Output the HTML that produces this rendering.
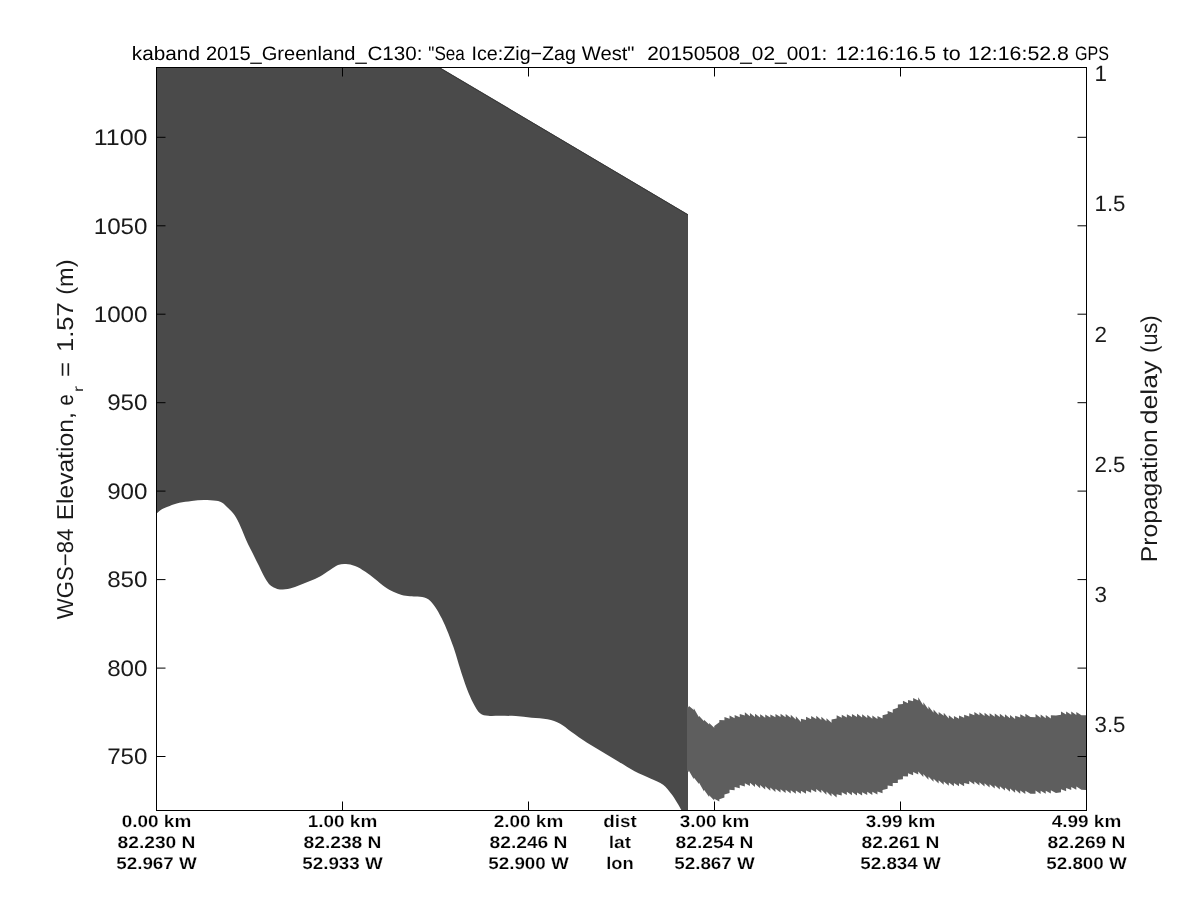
<!DOCTYPE html>
<html><head><meta charset="utf-8"><style>
html,body{margin:0;padding:0;background:#fff;width:1200px;height:900px;overflow:hidden}
svg{display:block;will-change:transform}
text{text-rendering:geometricPrecision}
text{font-family:"Liberation Sans", sans-serif}
</style></head><body>
<svg width="1200" height="900" viewBox="0 0 1200 900">
<path d="M156,67 L439.3,67 L688,214.3 L688,810.5 L681.5,810.5 C681.5,810.4 682.0,811.3 681.3,810.0 C680.6,808.7 679.0,805.7 677.3,802.9 C675.6,800.1 673.4,796.4 671.0,793.4 C668.6,790.4 666.5,787.2 663.1,784.7 C659.7,782.2 655.1,780.6 650.4,778.4 C645.6,776.1 639.9,774.0 634.6,771.2 C629.3,768.4 624.0,764.9 618.7,761.7 C613.4,758.5 608.2,755.4 602.9,752.2 C597.6,749.0 592.4,746.1 587.1,742.7 C581.8,739.3 575.7,734.9 571.2,731.7 C566.7,728.6 564.2,725.9 560.2,723.8 C556.2,721.7 552.2,720.3 547.5,719.3 C542.8,718.3 537.0,718.2 531.7,717.7 C526.4,717.2 521.1,716.4 515.8,716.1 C510.5,715.8 504.6,715.8 500.0,715.8 C495.4,715.8 491.6,716.2 488.3,715.8 C485.0,715.4 482.5,715.4 480.0,713.3 C477.5,711.2 475.5,707.5 473.3,703.3 C471.1,699.1 468.9,694.1 466.7,688.3 C464.5,682.5 461.9,674.4 460.0,668.3 C458.1,662.2 456.9,657.5 455.0,651.7 C453.1,645.9 450.5,638.9 448.3,633.3 C446.1,627.7 443.9,622.7 441.7,618.3 C439.5,613.9 437.2,609.9 435.0,606.7 C432.8,603.5 430.8,600.9 428.3,599.2 C425.8,597.5 423.1,597.2 420.0,596.7 C416.9,596.2 413.1,596.6 410.0,596.3 C406.9,596.0 404.5,595.8 401.7,595.0 C398.9,594.2 396.1,593.0 393.3,591.7 C390.5,590.4 388.1,589.1 385.0,587.0 C381.9,584.9 378.3,581.6 375.0,579.0 C371.7,576.4 368.3,573.7 365.0,571.5 C361.7,569.3 358.2,567.2 355.0,566.0 C351.8,564.8 348.8,564.2 346.0,564.0 C343.2,563.8 340.7,564.0 338.0,565.0 C335.3,566.0 333.0,568.1 330.0,570.0 C327.0,571.9 323.3,574.7 320.0,576.5 C316.7,578.3 313.3,579.6 310.0,581.0 C306.7,582.4 303.3,583.8 300.0,585.0 C296.7,586.2 293.3,587.8 290.0,588.5 C286.7,589.2 282.5,589.6 280.0,589.5 C277.5,589.4 276.7,588.8 275.0,588.0 C273.3,587.2 271.7,586.7 270.0,585.0 C268.3,583.3 266.9,581.2 265.0,578.0 C263.1,574.8 260.9,569.9 258.9,565.8 C256.9,561.7 254.8,557.7 252.8,553.6 C250.8,549.5 248.7,545.8 246.7,541.3 C244.7,536.8 242.6,531.1 240.6,526.7 C238.6,522.3 236.6,518.2 234.5,515.1 C232.4,512.0 230.4,510.4 228.3,508.3 C226.2,506.2 224.2,504.1 222.2,502.8 C220.2,501.6 219.1,501.3 216.1,500.8 C213.1,500.3 208.0,500.0 203.9,500.0 C199.8,500.0 195.8,500.5 191.7,501.0 C187.6,501.5 183.1,502.0 179.4,502.8 C175.7,503.6 172.5,504.9 169.7,505.9 C166.8,506.9 164.5,507.7 162.3,508.9 C160.2,510.1 157.8,512.5 156.8,513.2 C155.8,513.9 156.6,513.3 156.5,513.3 L156,513.3 Z" fill="#4a4a4a"/>
<path d="M687.00,706.15 L688.73,707.37 L688.75,705.77 L693.83,709.94 L693.85,708.34 L698.93,717.36 L698.95,715.76 L704.03,721.27 L704.05,719.67 L709.13,724.61 L709.15,723.01 L714.23,727.72 L714.25,726.12 L719.33,722.35 L719.35,719.95 L724.43,720.29 L724.45,717.09 L729.53,718.71 L729.55,715.51 L734.63,718.21 L734.65,715.01 L739.73,717.31 L739.75,714.11 L744.83,715.52 L744.85,712.32 L749.93,716.24 L749.95,713.04 L755.03,716.99 L755.05,713.79 L760.13,717.40 L760.15,714.20 L765.23,717.66 L765.25,714.46 L770.33,717.62 L770.35,714.42 L775.43,717.18 L775.45,713.98 L780.53,717.01 L780.55,713.81 L785.63,717.26 L785.65,714.06 L790.73,717.86 L790.75,714.66 L795.83,719.43 L795.85,716.23 L800.93,722.05 L800.95,718.85 L806.03,720.05 L806.05,716.85 L811.13,719.15 L811.15,715.95 L816.23,718.92 L816.25,715.72 L821.33,719.99 L821.35,716.79 L826.43,721.34 L826.45,718.14 L831.53,722.68 L831.55,719.48 L836.63,718.52 L836.65,715.32 L841.73,717.87 L841.75,714.67 L846.83,717.44 L846.85,714.24 L851.93,717.08 L851.95,713.88 L857.03,717.01 L857.05,713.81 L862.13,717.41 L862.15,714.21 L867.23,718.03 L867.25,714.83 L872.33,718.79 L872.35,715.59 L877.43,719.12 L877.45,715.92 L882.53,718.46 L882.55,715.26 L887.63,714.09 L887.65,710.89 L892.73,712.79 L892.75,709.59 L897.83,707.73 L897.85,704.53 L902.93,704.05 L902.95,700.85 L908.03,703.23 L908.05,700.03 L913.13,701.24 L913.15,698.04 L918.23,700.54 L918.25,697.34 L923.33,705.47 L923.35,702.27 L928.43,709.52 L928.45,706.32 L933.53,712.76 L933.55,709.56 L938.63,715.11 L938.65,711.91 L943.73,715.83 L943.75,712.63 L948.83,718.39 L948.85,715.19 L953.93,719.15 L953.95,715.95 L959.03,718.65 L959.05,715.45 L964.13,717.84 L964.15,714.64 L969.23,716.47 L969.25,713.27 L974.33,715.26 L974.35,712.06 L979.43,715.35 L979.45,712.15 L984.53,715.98 L984.55,712.78 L989.63,716.53 L989.65,713.33 L994.73,716.78 L994.75,713.58 L999.83,717.03 L999.85,713.83 L1004.93,717.55 L1004.95,714.35 L1010.03,718.29 L1010.05,715.09 L1015.13,718.97 L1015.15,715.77 L1020.23,717.38 L1020.25,714.18 L1025.33,717.01 L1025.35,713.81 L1030.43,717.08 L1030.45,717.08 L1035.53,717.29 L1035.55,714.09 L1040.63,717.74 L1040.65,714.54 L1045.73,718.22 L1045.75,715.02 L1050.83,718.45 L1050.85,715.25 L1055.93,715.60 L1055.95,715.60 L1061.03,714.69 L1061.05,711.49 L1066.13,714.60 L1066.15,711.40 L1071.23,714.75 L1071.25,711.55 L1076.33,715.09 L1076.35,711.89 L1081.43,715.24 L1081.45,715.24 L1086.48,715.17 L1086.48,789.97 L1081.45,789.87 L1081.43,789.87 L1076.35,786.61 L1076.33,789.81 L1071.25,786.91 L1071.23,790.11 L1066.15,787.93 L1066.13,791.13 L1061.05,789.13 L1061.03,792.33 L1055.95,793.07 L1055.93,793.07 L1050.85,790.35 L1050.83,793.55 L1045.75,790.64 L1045.73,793.84 L1040.65,790.68 L1040.63,793.88 L1035.55,790.61 L1035.53,793.81 L1030.45,793.87 L1030.43,793.87 L1025.35,790.79 L1025.33,793.99 L1020.25,790.51 L1020.23,793.71 L1015.15,789.61 L1015.13,792.81 L1010.05,788.47 L1010.03,791.67 L1004.95,787.42 L1004.93,790.62 L999.85,786.37 L999.83,789.57 L994.75,785.33 L994.73,788.53 L989.65,784.31 L989.63,787.51 L984.55,783.32 L984.53,786.52 L979.45,782.35 L979.43,785.55 L974.35,781.38 L974.33,784.58 L969.25,780.94 L969.23,784.14 L964.15,782.93 L964.13,786.13 L959.05,783.14 L959.03,786.34 L953.95,783.05 L953.93,786.25 L948.85,782.59 L948.83,785.79 L943.75,781.58 L943.73,784.78 L938.65,780.27 L938.63,783.47 L933.55,778.66 L933.53,781.86 L928.45,776.58 L928.43,779.78 L923.35,773.92 L923.33,777.12 L918.25,771.39 L918.23,774.59 L913.15,771.97 L913.13,775.17 L908.05,773.35 L908.03,776.55 L902.95,776.15 L902.93,779.35 L897.85,779.69 L897.83,782.89 L892.75,783.06 L892.73,786.26 L887.65,785.50 L887.63,788.70 L882.55,789.97 L882.53,793.17 L877.45,791.42 L877.43,794.62 L872.35,791.81 L872.33,795.01 L867.25,791.81 L867.23,795.01 L862.15,792.18 L862.13,795.38 L857.05,792.40 L857.03,795.60 L851.95,792.12 L851.93,795.32 L846.85,791.68 L846.83,794.88 L841.75,792.29 L841.73,795.49 L836.65,794.34 L836.63,797.54 L831.55,793.34 L831.53,796.54 L826.45,791.55 L826.43,794.75 L821.35,789.86 L821.33,793.06 L816.25,789.06 L816.23,792.26 L811.15,789.62 L811.13,792.82 L806.05,790.46 L806.03,793.66 L800.95,790.65 L800.93,793.85 L795.85,790.62 L795.83,793.82 L790.75,790.36 L790.73,793.56 L785.65,789.86 L785.63,793.06 L780.55,789.26 L780.53,792.46 L775.45,788.71 L775.43,791.91 L770.35,787.55 L770.33,790.75 L765.25,786.27 L765.23,789.47 L760.15,785.06 L760.13,788.26 L755.05,783.73 L755.03,786.93 L749.95,782.84 L749.93,786.04 L744.85,783.29 L744.83,786.49 L739.75,784.97 L739.73,788.17 L734.65,787.04 L734.63,790.24 L729.55,789.68 L729.53,792.88 L724.45,794.40 L724.43,797.60 L719.35,799.16 L719.33,801.56 L714.25,798.84 L714.23,800.44 L709.15,795.33 L709.13,796.93 L704.05,789.82 L704.03,791.42 L698.95,782.46 L698.93,784.06 L693.85,777.61 L693.83,779.21 L688.75,770.46 L688.73,772.06 L687.00,770.65 Z" fill="#5e5e5e"/>
<line x1="439.6" y1="67.9" x2="688" y2="214.9" stroke="#383838" stroke-width="1"/>
<rect x="156.5" y="67.5" width="930.0" height="743.0" fill="none" stroke="#000" stroke-width="1"/>
<line x1="156.5" y1="137.3" x2="165.5" y2="137.3" stroke="#000"/>
<line x1="1086.5" y1="137.3" x2="1077.5" y2="137.3" stroke="#000"/>
<line x1="156.5" y1="225.8" x2="165.5" y2="225.8" stroke="#000"/>
<line x1="1086.5" y1="225.8" x2="1077.5" y2="225.8" stroke="#000"/>
<line x1="156.5" y1="314.2" x2="165.5" y2="314.2" stroke="#000"/>
<line x1="1086.5" y1="314.2" x2="1077.5" y2="314.2" stroke="#000"/>
<line x1="156.5" y1="402.7" x2="165.5" y2="402.7" stroke="#000"/>
<line x1="1086.5" y1="402.7" x2="1077.5" y2="402.7" stroke="#000"/>
<line x1="156.5" y1="491.1" x2="165.5" y2="491.1" stroke="#000"/>
<line x1="1086.5" y1="491.1" x2="1077.5" y2="491.1" stroke="#000"/>
<line x1="156.5" y1="579.6" x2="165.5" y2="579.6" stroke="#000"/>
<line x1="1086.5" y1="579.6" x2="1077.5" y2="579.6" stroke="#000"/>
<line x1="156.5" y1="668.1" x2="165.5" y2="668.1" stroke="#000"/>
<line x1="1086.5" y1="668.1" x2="1077.5" y2="668.1" stroke="#000"/>
<line x1="156.5" y1="756.5" x2="165.5" y2="756.5" stroke="#000"/>
<line x1="1086.5" y1="756.5" x2="1077.5" y2="756.5" stroke="#000"/>
<line x1="342.5" y1="810.5" x2="342.5" y2="801.5" stroke="#000"/>
<line x1="342.5" y1="67.5" x2="342.5" y2="76.5" stroke="#000"/>
<line x1="528.5" y1="810.5" x2="528.5" y2="801.5" stroke="#000"/>
<line x1="528.5" y1="67.5" x2="528.5" y2="76.5" stroke="#000"/>
<line x1="714.5" y1="810.5" x2="714.5" y2="801.5" stroke="#000"/>
<line x1="714.5" y1="67.5" x2="714.5" y2="76.5" stroke="#000"/>
<line x1="900.5" y1="810.5" x2="900.5" y2="801.5" stroke="#000"/>
<line x1="900.5" y1="67.5" x2="900.5" y2="76.5" stroke="#000"/>
<text x="147.5" y="145.0" text-anchor="end" font-size="22.5" fill="#1a1a1a" textLength="53.8" lengthAdjust="spacingAndGlyphs">1100</text>
<text x="147.5" y="233.5" text-anchor="end" font-size="22.5" fill="#1a1a1a" textLength="53.8" lengthAdjust="spacingAndGlyphs">1050</text>
<text x="147.5" y="321.9" text-anchor="end" font-size="22.5" fill="#1a1a1a" textLength="53.8" lengthAdjust="spacingAndGlyphs">1000</text>
<text x="147.5" y="410.4" text-anchor="end" font-size="22.5" fill="#1a1a1a" textLength="40.3" lengthAdjust="spacingAndGlyphs">950</text>
<text x="147.5" y="498.8" text-anchor="end" font-size="22.5" fill="#1a1a1a" textLength="40.3" lengthAdjust="spacingAndGlyphs">900</text>
<text x="147.5" y="587.3" text-anchor="end" font-size="22.5" fill="#1a1a1a" textLength="40.3" lengthAdjust="spacingAndGlyphs">850</text>
<text x="147.5" y="675.8" text-anchor="end" font-size="22.5" fill="#1a1a1a" textLength="40.3" lengthAdjust="spacingAndGlyphs">800</text>
<text x="147.5" y="764.2" text-anchor="end" font-size="22.5" fill="#1a1a1a" textLength="40.3" lengthAdjust="spacingAndGlyphs">750</text>
<text x="1094.5" y="81.3" font-size="22" fill="#1a1a1a" textLength="12.5" lengthAdjust="spacingAndGlyphs">1</text>
<text x="1094.5" y="211.4" font-size="22" fill="#1a1a1a" textLength="31" lengthAdjust="spacingAndGlyphs">1.5</text>
<text x="1094.5" y="341.5" font-size="22" fill="#1a1a1a" textLength="12.5" lengthAdjust="spacingAndGlyphs">2</text>
<text x="1094.5" y="471.6" font-size="22" fill="#1a1a1a" textLength="31" lengthAdjust="spacingAndGlyphs">2.5</text>
<text x="1094.5" y="601.7" font-size="22" fill="#1a1a1a" textLength="12.5" lengthAdjust="spacingAndGlyphs">3</text>
<text x="1094.5" y="731.8" font-size="22" fill="#1a1a1a" textLength="31" lengthAdjust="spacingAndGlyphs">3.5</text>
<text x="131.84" y="60" font-size="19.5" fill="#000" textLength="68.11" lengthAdjust="spacingAndGlyphs">kaband</text>
<text x="205.93" y="60" font-size="19.5" fill="#000" textLength="160.7" lengthAdjust="spacingAndGlyphs">2015_Greenland_</text>
<text x="367.49" y="60" font-size="19.5" fill="#000" textLength="55.03" lengthAdjust="spacingAndGlyphs">C130:</text>
<text x="428.37" y="60" font-size="19.5" fill="#000" textLength="36.48" lengthAdjust="spacingAndGlyphs">"Sea</text>
<text x="471.55" y="60" font-size="19.5" fill="#000" textLength="104.41" lengthAdjust="spacingAndGlyphs">Ice:Zig&#8722;Zag</text>
<text x="581.77" y="60" font-size="19.5" fill="#000" textLength="52.77" lengthAdjust="spacingAndGlyphs">West"</text>
<text x="647.2" y="60" font-size="19.5" fill="#000" textLength="180.14" lengthAdjust="spacingAndGlyphs">20150508_02_001:</text>
<text x="835.7" y="60" font-size="19.5" fill="#000" textLength="100.3" lengthAdjust="spacingAndGlyphs">12:16:16.5</text>
<text x="942.73" y="60" font-size="19.5" fill="#000" textLength="17.94" lengthAdjust="spacingAndGlyphs">to</text>
<text x="968.1" y="60" font-size="19.5" fill="#000" textLength="100.81" lengthAdjust="spacingAndGlyphs">12:16:52.8</text>
<text x="1075.0" y="60" font-size="19.5" fill="#000" textLength="33.91" lengthAdjust="spacingAndGlyphs">GPS</text>
<g transform="translate(72.5,1000) rotate(-90)"><text x="380.8" y="0" font-size="23" fill="#1a1a1a" textLength="90.5" lengthAdjust="spacingAndGlyphs">WGS&#8722;84</text></g>
<g transform="translate(72.5,1000) rotate(-90)"><text x="479.65" y="0" font-size="23" fill="#1a1a1a" textLength="108.1" lengthAdjust="spacingAndGlyphs">Elevation,</text></g>
<g transform="translate(72.5,1000) rotate(-90)"><text x="594.6" y="0" font-size="23" fill="#1a1a1a" textLength="11.13" lengthAdjust="spacingAndGlyphs">e</text></g>
<g transform="translate(72.5,1000) rotate(-90)"><text x="623.0" y="0" font-size="23" fill="#1a1a1a" textLength="15.0" lengthAdjust="spacingAndGlyphs">=</text></g>
<g transform="translate(72.5,1000) rotate(-90)"><text x="647.96" y="0" font-size="23" fill="#1a1a1a" textLength="49.85" lengthAdjust="spacingAndGlyphs">1.57</text></g>
<g transform="translate(72.5,1000) rotate(-90)"><text x="705.25" y="0" font-size="23" fill="#1a1a1a" textLength="35.38" lengthAdjust="spacingAndGlyphs">(m)</text></g>
<g transform="translate(1156.7,1000) rotate(-90)"><text x="437.79" y="0" font-size="23" fill="#1a1a1a" textLength="133.03" lengthAdjust="spacingAndGlyphs">Propagation</text></g>
<g transform="translate(1156.7,1000) rotate(-90)"><text x="575.66" y="0" font-size="23" fill="#1a1a1a" textLength="63.69" lengthAdjust="spacingAndGlyphs">delay</text></g>
<g transform="translate(1156.7,1000) rotate(-90)"><text x="647.18" y="0" font-size="23" fill="#1a1a1a" textLength="37.37" lengthAdjust="spacingAndGlyphs">(us)</text></g>
<text transform="translate(83,392) rotate(-90)" font-size="14" fill="#1a1a1a" textLength="6" lengthAdjust="spacingAndGlyphs">r</text>
<text x="156.5" y="827.2" text-anchor="middle" font-size="17" font-weight="bold" fill="#000" stroke="#fff" stroke-width="0.2" textLength="69.5" lengthAdjust="spacingAndGlyphs">0.00 km</text>
<text x="342.5" y="827.2" text-anchor="middle" font-size="17" font-weight="bold" fill="#000" stroke="#fff" stroke-width="0.2" textLength="69.5" lengthAdjust="spacingAndGlyphs">1.00 km</text>
<text x="528.5" y="827.2" text-anchor="middle" font-size="17" font-weight="bold" fill="#000" stroke="#fff" stroke-width="0.2" textLength="69.5" lengthAdjust="spacingAndGlyphs">2.00 km</text>
<text x="714.5" y="827.2" text-anchor="middle" font-size="17" font-weight="bold" fill="#000" stroke="#fff" stroke-width="0.2" textLength="69.5" lengthAdjust="spacingAndGlyphs">3.00 km</text>
<text x="900.5" y="827.2" text-anchor="middle" font-size="17" font-weight="bold" fill="#000" stroke="#fff" stroke-width="0.2" textLength="69.5" lengthAdjust="spacingAndGlyphs">3.99 km</text>
<text x="1086.5" y="827.2" text-anchor="middle" font-size="17" font-weight="bold" fill="#000" stroke="#fff" stroke-width="0.2" textLength="69.5" lengthAdjust="spacingAndGlyphs">4.99 km</text>
<text x="620" y="827.2" text-anchor="middle" font-size="17" font-weight="bold" fill="#000" stroke="#fff" stroke-width="0.2" textLength="33.5" lengthAdjust="spacingAndGlyphs">dist</text>
<text x="156.5" y="848.2" text-anchor="middle" font-size="17" font-weight="bold" fill="#000" stroke="#fff" stroke-width="0.2" textLength="78" lengthAdjust="spacingAndGlyphs">82.230 N</text>
<text x="342.5" y="848.2" text-anchor="middle" font-size="17" font-weight="bold" fill="#000" stroke="#fff" stroke-width="0.2" textLength="78" lengthAdjust="spacingAndGlyphs">82.238 N</text>
<text x="528.5" y="848.2" text-anchor="middle" font-size="17" font-weight="bold" fill="#000" stroke="#fff" stroke-width="0.2" textLength="78" lengthAdjust="spacingAndGlyphs">82.246 N</text>
<text x="714.5" y="848.2" text-anchor="middle" font-size="17" font-weight="bold" fill="#000" stroke="#fff" stroke-width="0.2" textLength="78" lengthAdjust="spacingAndGlyphs">82.254 N</text>
<text x="900.5" y="848.2" text-anchor="middle" font-size="17" font-weight="bold" fill="#000" stroke="#fff" stroke-width="0.2" textLength="78" lengthAdjust="spacingAndGlyphs">82.261 N</text>
<text x="1086.5" y="848.2" text-anchor="middle" font-size="17" font-weight="bold" fill="#000" stroke="#fff" stroke-width="0.2" textLength="78" lengthAdjust="spacingAndGlyphs">82.269 N</text>
<text x="620" y="848.2" text-anchor="middle" font-size="17" font-weight="bold" fill="#000" stroke="#fff" stroke-width="0.2" textLength="22.5" lengthAdjust="spacingAndGlyphs">lat</text>
<text x="156.5" y="869.2" text-anchor="middle" font-size="17" font-weight="bold" fill="#000" stroke="#fff" stroke-width="0.2" textLength="80.5" lengthAdjust="spacingAndGlyphs">52.967 W</text>
<text x="342.5" y="869.2" text-anchor="middle" font-size="17" font-weight="bold" fill="#000" stroke="#fff" stroke-width="0.2" textLength="80.5" lengthAdjust="spacingAndGlyphs">52.933 W</text>
<text x="528.5" y="869.2" text-anchor="middle" font-size="17" font-weight="bold" fill="#000" stroke="#fff" stroke-width="0.2" textLength="80.5" lengthAdjust="spacingAndGlyphs">52.900 W</text>
<text x="714.5" y="869.2" text-anchor="middle" font-size="17" font-weight="bold" fill="#000" stroke="#fff" stroke-width="0.2" textLength="80.5" lengthAdjust="spacingAndGlyphs">52.867 W</text>
<text x="900.5" y="869.2" text-anchor="middle" font-size="17" font-weight="bold" fill="#000" stroke="#fff" stroke-width="0.2" textLength="80.5" lengthAdjust="spacingAndGlyphs">52.834 W</text>
<text x="1086.5" y="869.2" text-anchor="middle" font-size="17" font-weight="bold" fill="#000" stroke="#fff" stroke-width="0.2" textLength="80.5" lengthAdjust="spacingAndGlyphs">52.800 W</text>
<text x="620" y="869.2" text-anchor="middle" font-size="17" font-weight="bold" fill="#000" stroke="#fff" stroke-width="0.2" textLength="27.5" lengthAdjust="spacingAndGlyphs">lon</text>
</svg>
</body></html>
